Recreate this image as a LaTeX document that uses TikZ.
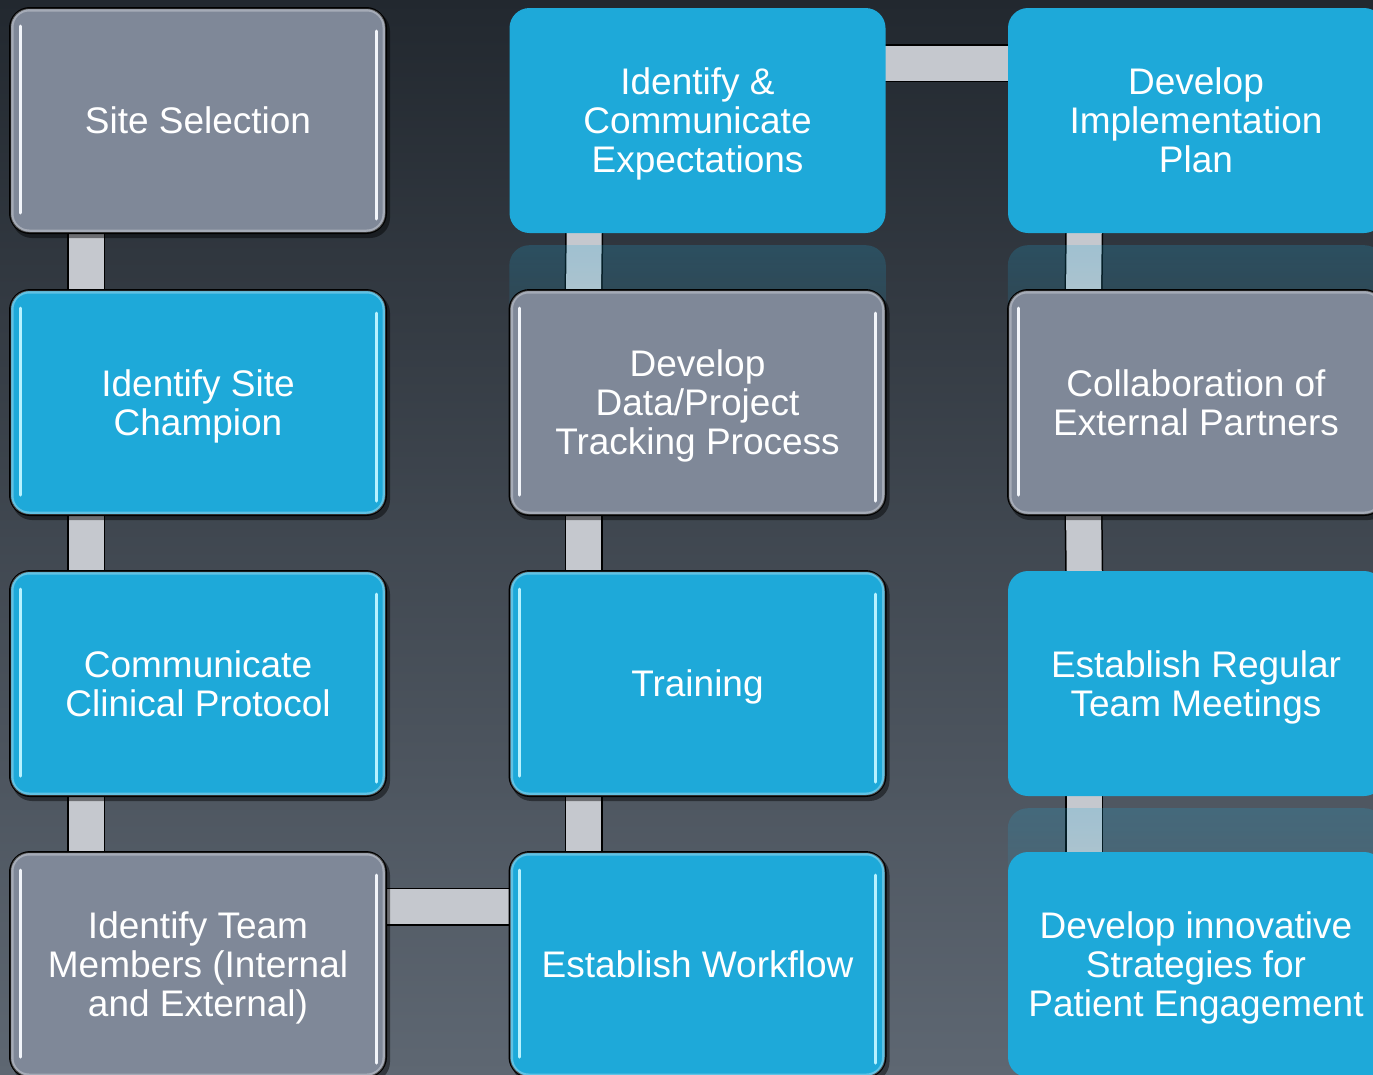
\documentclass[tikz,border=0pt]{standalone}
\usepackage{fontspec}
\setmainfont{Liberation Sans}
\usetikzlibrary{calc,fadings}
\definecolor{bgtop}{HTML}{22282F}
\definecolor{bgmid}{HTML}{2A3038}
\definecolor{bgbot}{HTML}{5E6772}
\definecolor{boxgray}{HTML}{7F8898}
\definecolor{boxblue}{HTML}{1EA9D9}
\definecolor{conngray}{HTML}{C5C8CE}
\definecolor{hlblue}{HTML}{B8F2FF}
\definecolor{hlgray}{HTML}{F2F5FA}
\pgfdeclarelayer{bglayer}
\pgfdeclarelayer{connlayer}
\pgfdeclarelayer{refllayer}
\pgfsetlayers{bglayer,connlayer,refllayer,main}
\tikzset{
  box/.style={rounded corners=20pt, minimum width=376pt, minimum height=225pt,
    text=white, align=center, font=\fontsize{37}{39}\selectfont, inner sep=0pt,
    text depth=0pt},
  gbox/.style={box, fill=boxgray, draw=black, line width=2pt},
  gblue/.style={box, fill=boxblue, draw=black, line width=2pt},
  fblue/.style={box, fill=boxblue},
  conn/.style={draw=black, line width=1.5pt, double=conngray, double distance=35pt},
  refl/.style={fill=boxblue, fill opacity=0.22, path fading=south, rounded corners=20pt},
  shad/.style={fill=black, fill opacity=0.45, rounded corners=20pt},
}
\newcommand\glossfx[2]{%
  \draw[white, opacity=0.3, line width=3pt, rounded corners=17pt]
    ($(#1.north west)+(3,3)$) rectangle ($(#1.south east)+(-3,-3)$);
  \draw[#2, line width=3pt, line cap=round]
    ($(#1.north west)+(11,19)$) -- ($(#1.south west)+(11,-21)$);
  \draw[#2, line width=3pt, line cap=round]
    ($(#1.north east)+(-11,24)$) -- ($(#1.south east)+(-11,-15)$);
}
\newcommand\boxshad[1]{%
  \fill[shad] ($(#1.north west)+(3,4)$) rectangle ($(#1.south east)+(3,4)$);
}
\begin{document}
\begin{tikzpicture}[x=1pt,y=-1pt]
\useasboundingbox (0,0) rectangle (1373,1074);
\begin{pgfonlayer}{bglayer}
  \shade[top color=bgtop, middle color=bgmid, bottom color=bgbot] (0,0) rectangle (1373,1074);
\end{pgfonlayer}

% column 1
\node[gbox]  (s1) at (198,120.5) {Site Selection};
\node[gblue] (s2) at (198,402.5) {Identify Site\\Champion};
\node[gblue] (s3) at (198,683.5) {Communicate\\Clinical Protocol};
\node[gbox]  (s4) at (198,964.5) {Identify Team\\Members (Internal\\and External)};
% column 2
\node[fblue] (m1) at (697.5,120.5) {Identify \&\\Communicate\\Expectations};
\node[gbox]  (m2) at (697.5,402.5) {Develop\\Data/Project\\Tracking Process};
\node[gblue] (m3) at (697.5,683.5) {Training};
\node[gblue] (m4) at (697.5,964.5) {Establish Workflow};
% column 3
\node[fblue] (r1) at (1196,120.5) {Develop\\Implementation\\Plan};
\node[gbox]  (r2) at (1196,402.5) {Collaboration of\\External Partners};
\node[fblue] (r3) at (1196,683.5) {Establish Regular\\Team Meetings};
\node[fblue] (r4) at (1196,964.5) {Develop innovative\\Strategies for\\Patient Engagement};

\glossfx{s1}{hlgray}
\glossfx{s2}{hlblue}
\glossfx{s3}{hlblue}
\glossfx{s4}{hlgray}
\glossfx{m2}{hlgray}
\glossfx{m3}{hlblue}
\glossfx{m4}{hlblue}
\glossfx{r2}{hlgray}

\begin{pgfonlayer}{connlayer}
  \draw[conn] ($(s1.south west)+(77,-5)$) -- ($(s2.north west)+(77,5)$);
  \draw[conn] ($(s2.south west)+(77,-5)$) -- ($(s3.north west)+(77,5)$);
  \draw[conn] ($(s3.south west)+(77,-5)$) -- ($(s4.north west)+(77,5)$);
  \draw[conn] ($(s4.north east)+(-5,55.5)$) -- ($(m4.north west)+(5,55.5)$);
  \draw[conn] ($(m4.north west)+(75,5)$) -- ($(m3.south west)+(75,-5)$);
  \draw[conn] ($(m3.north west)+(75,5)$) -- ($(m2.south west)+(75,-5)$);
  \draw[conn] ($(m2.north west)+(75,5)$) -- ($(m1.south west)+(75,-5)$);
  \draw[conn] ($(m1.north east)+(-5,55.5)$) -- ($(r1.north west)+(5,55.5)$);
  \draw[conn] ($(r1.south west)+(76.5,-5)$) -- ($(r2.north west)+(76.5,5)$);
  \draw[conn] ($(r2.south west)+(76.5,-5)$) -- ($(r3.north west)+(76.5,5)$);
  \draw[conn] ($(r3.south west)+(76.5,-5)$) -- ($(r4.north west)+(76.5,5)$);
\end{pgfonlayer}

\begin{pgfonlayer}{refllayer}
  \fill[refl] ($(m1.south west)+(0,12)$) rectangle ($(m1.south east)+(0,160)$);
  \fill[refl] ($(r1.south west)+(0,12)$) rectangle ($(r1.south east)+(0,160)$);
  \fill[refl] ($(r3.south west)+(0,12)$) rectangle ($(r3.south east)+(0,160)$);
  \boxshad{s1}\boxshad{s2}\boxshad{s3}\boxshad{s4}
  \boxshad{m2}\boxshad{m3}\boxshad{m4}\boxshad{r2}
\end{pgfonlayer}
\end{tikzpicture}
\end{document}
